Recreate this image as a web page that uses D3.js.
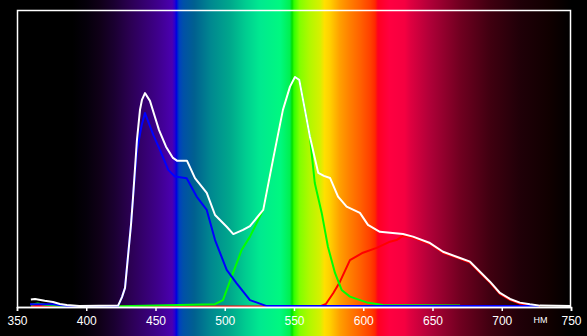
<!DOCTYPE html>
<html><head><meta charset="utf-8">
<script src="https://cdn.jsdelivr.net/npm/d3@7/dist/d3.min.js"></script>
<style>html,body{margin:0;padding:0;background:#000;overflow:hidden}</style>
</head><body>
<svg id="c" width="587" height="336"></svg>
<script>
const xTicks = [350,400,450,500,550,600,650,700,750];
const unitLabel = "НМ";
const spectrumStops = [
  [350,"#000000"],[390,"#000000"],[400,"#05000a"],[410,"#100018"],[420,"#1a0030"],
  [431,"#2a0050"],[445,"#380078"],[453,"#400090"],[462,"#4a00b0"],[464,"#2a00d0"],
  [465,"#0000e0"],[467,"#0040c0"],[470,"#0050a8"],[478,"#006090"],[490,"#008890"],
  [504,"#00a88c"],[515,"#00cc90"],[525,"#00e890"],[540,"#00f880"],[547,"#00f050"],
  [548.6,"#00e000"],[550,"#30ff00"],[554,"#80ff00"],[561,"#b0f800"],[569,"#d8f000"],
  [572,"#ffe000"],[576,"#ffd000"],[583,"#ffa000"],[590,"#ff8000"],[598,"#ff6000"],
  [605,"#ff4000"],[608.5,"#ff2800"],[610.6,"#ff0020"],[619,"#ff0040"],[630,"#f50040"],
  [634,"#e00040"],[648,"#b00038"],[670,"#700020"],[691.5,"#400010"],[713,"#200008"],
  [735,"#100000"],[750,"#000000"]
];
const whiteSeries = [
  [360,3.3],[363,3.5],[370,2.7],[376,2.2],[381,1.3],[386,0.9],[395,0.4],[423,0.6],
  [425.8,4.3],[428,8.3],[430.1,21.7],[432.3,35.7],[433.8,47.8],[436.6,72.6],[438.8,85.7],
  [440.2,90],[442.4,93],[446,89.6],[449.6,82.6],[452.5,77],[457.6,69.7],[462.6,64.8],
  [465.5,63.6],[472.7,63.6],[478.5,56],[487,49.6],[493,40],[501.4,34.9],[506.2,31.7],
  [513.2,33.5],[518.2,35.2],[527.8,42.2],[534.8,63.9],[542,85.7],[547.1,95.8],[550.7,100],
  [553.8,98.7],[557.9,85.7],[561.5,74],[567.5,58.3],[571.6,57],[576,56.1],[581.8,48],
  [588,43.6],[597.6,40.9],[603.4,35.7],[612,32.7],[628.7,31.7],[635.9,30.6],[648.2,27.8],
  [657.6,24],[669.9,21.3],[677.1,19.7],[684.3,15.3],[691.5,11],[698.7,6.1],[706,3.5],
  [713.1,1.9],[720.3,1.2],[727.6,0.6],[750,0.4]
];
const blueSeries = [
  [359.4,1.2],[376,1.2],[386,0.4],[423,0.4],[425.8,4.3],[428,8.3],[430,21.7],[432.3,35.7],
  [433.8,47.8],[436.6,68],[440,79],[442.4,84.3],[448.4,74.8],[453.2,68.3],[459.2,59.6],
  [464,56.7],[472.5,56],[479.7,48],[487,42.2],[493,29.1],[501.4,16.1],[508.6,10.3],
  [518.2,3],[530.3,0.4],[727,0.4]
];
const greenSeries = [
  [360,1],[365,1.5],[370,1],[380,0.5],[390,0.3],[424.4,0.3],[493,1.2],[498.7,3],[506,14.8],
  [512.2,24.8],[518.2,30.6],[527.8,42.2],[534.8,63.9],[542,85.7],[547.1,95.8],[550.7,100],
  [553.8,98.7],[557.9,85.7],[561.5,74],[565,53.9],[570,40.9],[574.5,26.2],[579.6,14.8],
  [584.4,7.4],[590.4,4.5],[602.5,2],[614.3,0.9],[669.9,0.6]
];
const redSeries = [
  [360,0.4],[376,0.4],[390,0.2],[493,0.2],[568.8,0.2],[573,1.3],[578.4,6.1],[583.2,11],
  [590.4,20.4],[599.8,23.6],[609.7,25.7],[619.3,28.4],[624,29.1],[628.7,30.9],[635.9,30.2],
  [648.2,27.4],[657.6,23.6],[670,20.9],[677,19.3],[684.3,14.9],[691.5,10.6],[698.7,5.7],
  [706,3.1],[713.1,1.5],[720.3,0.9],[727.6,0.3]
];

(function(){
const svg = d3.select("#c");
const W = 587, H = 336;
const mLeft = 17, mRight = 571, mTop = 10, mBottom = 307;
const x = d3.scaleLinear().domain([350,750]).range([mLeft,mRight]);
const y = d3.scaleLinear().domain([0,129.1]).range([mBottom,mTop]);

const defs = svg.append("defs");
const grad = defs.append("linearGradient").attr("id","spec")
  .attr("gradientUnits","userSpaceOnUse")
  .attr("x1",x(350)).attr("x2",x(750)).attr("y1",0).attr("y2",0);
grad.selectAll("stop").data(spectrumStops).join("stop")
  .attr("offset",d=>(d[0]-350)/400).attr("stop-color",d=>d[1]);
svg.append("rect").attr("x",0).attr("y",0).attr("width",W).attr("height",H).attr("fill","#000");
svg.append("rect").attr("x",x(350)).attr("y",0).attr("width",x(750)-x(350)).attr("height",H).attr("fill","url(#spec)");

const line = d3.line().x(d=>x(d[0])).y(d=>y(d[1]));
const series = [[redSeries,"#ff0000"],[greenSeries,"#00ff00"],[blueSeries,"#0000ff"],[whiteSeries,"#ffffff"]];
svg.append("g").selectAll("path").data(series).join("path")
  .attr("d",d=>line(d[0])).attr("fill","none").attr("stroke",d=>d[1])
  .attr("stroke-width",2).attr("stroke-linejoin","round");

svg.append("rect").attr("x",mLeft+0.5).attr("y",mTop+0.5).attr("width",mRight-mLeft-1).attr("height",mBottom-mTop)
  .attr("fill","none").attr("stroke","#fff").attr("stroke-width",1.5);

const axis = d3.axisBottom(x).tickValues(xTicks).tickFormat(d3.format("d")).tickSize(4).tickPadding(5);
const ag = svg.append("g").attr("transform",`translate(0,${mBottom})`).call(axis);
ag.select(".domain").attr("stroke","#fff").attr("stroke-width",1.5);
ag.selectAll(".tick line").attr("stroke","#fff").attr("stroke-width",1.5);
ag.selectAll(".tick text").attr("fill","#fff").attr("font-family","'Liberation Sans',Arial,sans-serif").attr("font-size",12);

svg.append("text").attr("x",x(728)).attr("y",323).attr("text-anchor","middle")
  .attr("fill","#fff").attr("font-family","'Liberation Sans',Arial,sans-serif").attr("font-size",9).text(unitLabel);
})();
</script>
</body></html>
